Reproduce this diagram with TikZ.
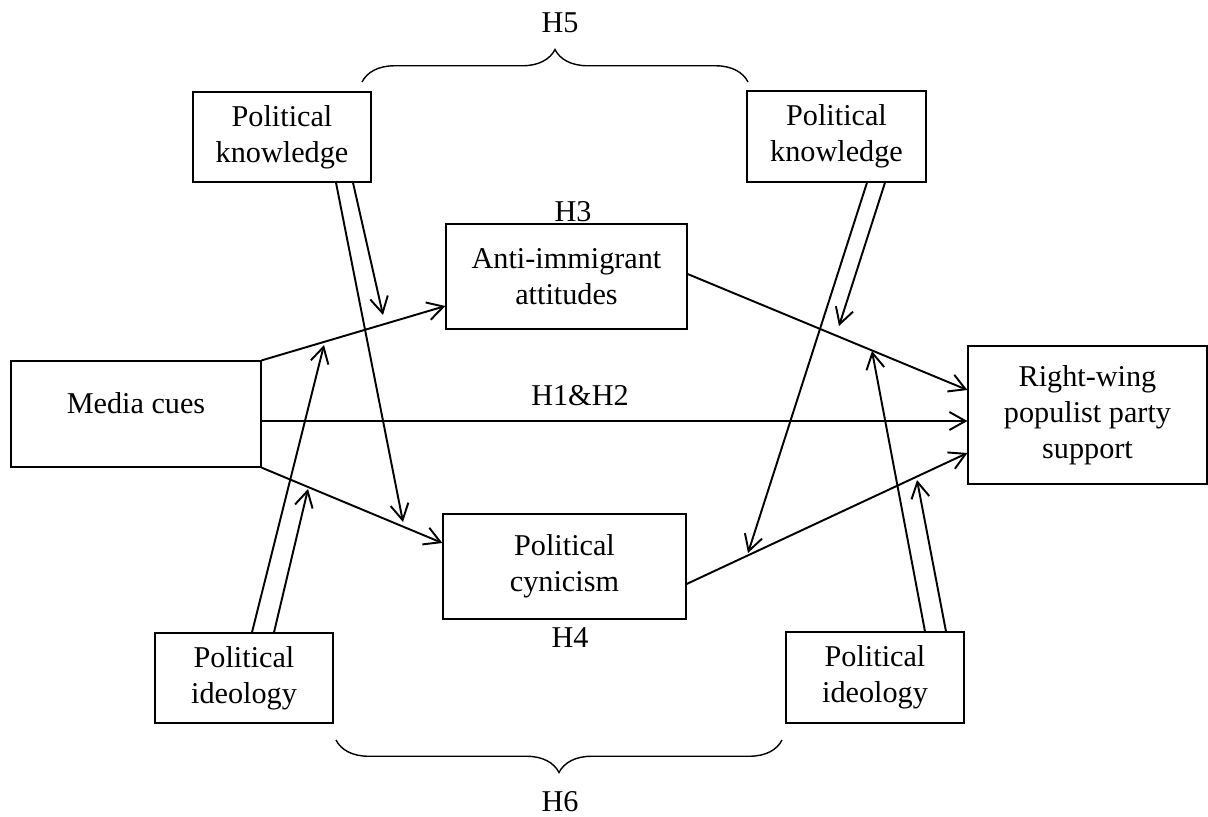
\documentclass[tikz,border=0pt]{standalone}
\usepackage{fontspec}
\setmainfont{Liberation Serif}
\usetikzlibrary{positioning,arrows.meta,decorations.pathreplacing}

\begin{document}
\begin{tikzpicture}[
  x=0.02cm, y=-0.02cm,
  every node/.style={font=\fontsize{17.2}{20.5}\selectfont},
  box/.style={rectangle, draw=black, line width=0.7pt, align=center, inner sep=0pt},
  arr/.style={-{Straight Barb[length=3.2mm,width=3.6mm]}, line width=1.1pt},
  hbrace/.style={decorate, decoration={brace, amplitude=0.65cm}, line width=0.8pt}
]
  \useasboundingbox (0,0) rectangle (1208,816);

  \node[box, minimum width=5cm, minimum height=2.12cm,
        label={[name=medialbl, yshift=0.22cm]center:Media cues}] (media) at (136,414) {};
  \node[box, minimum width=4.82cm, minimum height=2.1cm] (anti) at (566.5,276.5) {Anti-immigrant\\attitudes};
  \node[box, minimum width=4.86cm, minimum height=2.1cm] (cyn) at (564.5,566.5) {Political\\cynicism};
  \node[box, minimum width=4.78cm, minimum height=2.76cm] (rwpp) at (1087.5,415) {Right-wing\\populist party\\support};
  \node[box, minimum width=3.56cm, minimum height=1.8cm] (knowL) at (282,137) {Political\\knowledge};
  \node[box, minimum width=3.58cm, minimum height=1.82cm] (knowR) at (836.5,136.5) {Political\\knowledge};
  \node[box, minimum width=3.56cm, minimum height=1.8cm] (ideoL) at (244,678) {Political\\ideology};
  \node[box, minimum width=3.56cm, minimum height=1.82cm] (ideoR) at (875,677.5) {Political\\ideology};

  \node (h1) at (580,396) {H1\&H2};
  \node (h3) at (573,212) {H3};
  \node (h4) at (570,638) {H4};
  \node (h5) at (560,23) {H5};
  \node (h6) at (560,802) {H6};

  \draw[arr] (media.north east) -- ([yshift=-0.59cm]anti.west);
  \draw[arr] (media.south east) -- ([yshift=0.47cm]cyn.west);
  \draw[arr] ([yshift=-0.14cm]media.east) -- ([yshift=-0.14cm]media.east -| rwpp.west);
  \draw[arr] ([yshift=0.05cm]anti.east) -- ([yshift=0.5cm]rwpp.west);
  \draw[arr] ([yshift=-0.35cm]cyn.east) -- ([yshift=-0.76cm]rwpp.west);

  \coordinate (kl1) at (403,522);
  \coordinate (kl2) at (383,315);
  \coordinate (kr1) at (748,553);
  \coordinate (kr2) at (839,326);
  \coordinate (il1) at (324,345);
  \coordinate (il2) at (308,489);
  \coordinate (ir1) at (872,351);
  \coordinate (ir2) at (917,480);

  \draw[arr] ([xshift=1.08cm]knowL.south) -- (kl1);
  \draw[arr] ([xshift=1.42cm]knowL.south) -- (kl2);
  \draw[arr] ([xshift=0.61cm]knowR.south) -- (kr1);
  \draw[arr] ([xshift=0.97cm]knowR.south) -- (kr2);
  \draw[arr] ([xshift=0.16cm]ideoL.north) -- (il1);
  \draw[arr] ([xshift=0.6cm]ideoL.north) -- (il2);
  \draw[arr] ([xshift=1cm]ideoR.north) -- (ir1);
  \draw[arr] ([xshift=1.42cm]ideoR.north) -- (ir2);

  \draw[hbrace] (362,82) -- (748,82);
  \draw[hbrace] (782,740) -- (336,740);
\end{tikzpicture}
\end{document}
